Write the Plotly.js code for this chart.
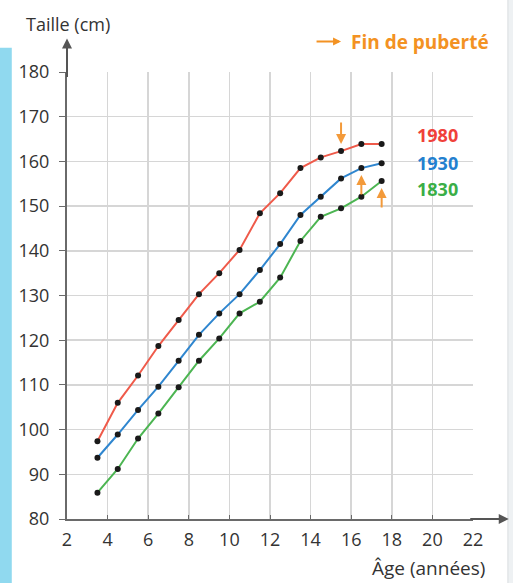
<!DOCTYPE html>
<html>
<head>
<meta charset="utf-8">
<script src="https://cdn.plot.ly/plotly-3.0.1.min.js"></script>
<style>html,body{margin:0;padding:0;background:#fff;}#chart{width:513px;height:583px;}</style>
</head>
<body>
<div id="chart"></div>
<script>
// Ages (années)
const ages = [3.5, 4.5, 5.5, 6.5, 7.5, 8.5, 9.5, 10.5, 11.5, 12.5, 13.5, 14.5, 15.5, 16.5, 17.5];
// Taille (cm)
const taille1980 = [97.4, 106.0, 112.1, 118.7, 124.5, 130.3, 135.0, 140.2, 148.4, 152.9, 158.5, 160.9, 162.3, 163.9, 163.9];
const taille1930 = [93.7, 98.9, 104.4, 109.6, 115.4, 121.2, 126.0, 130.3, 135.7, 141.5, 148.0, 152.1, 156.2, 158.5, 159.6];
const taille1830 = [85.9, 91.2, 98.0, 103.6, 109.5, 115.4, 120.4, 126.0, 128.6, 134.0, 142.2, 147.6, 149.5, 152.1, 155.6];
const seriesNames = ['1980', '1930', '1830'];
// Fin de puberté (âge) pour chaque série
const puberteAge = [15.5, 16.5, 17.5];
const xTicks = [2, 4, 6, 8, 10, 12, 14, 16, 18, 20, 22];
const yTicks = [80, 90, 100, 110, 120, 130, 140, 150, 160, 170, 180];

const colors = ['#ef5a4a', '#2f86cf', '#4cb552'];
const labelColors = ['#f0413a', '#2380cf', '#3aae46'];
const series = [taille1980, taille1930, taille1830];
const font = '"Open Sans", "Noto Sans", sans-serif';

const traces = series.map((s, i) => ({
  x: ages, y: s, type: 'scatter', mode: 'lines+markers', name: seriesNames[i],
  line: {color: colors[i], width: 2},
  marker: {color: '#1a1a1a', size: 6},
  hoverinfo: 'skip'
}));

const annotations = [];
// series labels at right
const labelShift = [9, 0, -8];
series.forEach((s, i) => {
  annotations.push({
    x: 1, xref: 'paper', xanchor: 'center', xshift: -36,
    y: s[s.length - 1], yref: 'y', yanchor: 'middle',
    yshift: labelShift[i],
    text: '<b>' + seriesNames[i] + '</b>', showarrow: false,
    font: {family: font, size: 18, color: labelColors[i]}
  });
});
// puberty arrows
series.forEach((s, i) => {
  const idx = ages.indexOf(puberteAge[i]);
  const down = i === 0;
  annotations.push({
    x: puberteAge[i], y: s[idx], xref: 'x', yref: 'y', text: '',
    showarrow: true, arrowhead: 2, arrowsize: 1, arrowwidth: 2, arrowcolor: '#f39a3a',
    ax: 0, ay: down ? -30 : 28, standoff: 7
  });
});
// axis arrows
annotations.push({x: 0, y: 1.075, xref: 'paper', yref: 'paper', text: '', showarrow: true,
  arrowhead: 2, arrowsize: 1, arrowwidth: 2, arrowcolor: '#555', ax: 0, ay: 40, standoff: 0});
annotations.push({x: 1.088, y: 0, xref: 'paper', yref: 'paper', text: '', showarrow: true,
  arrowhead: 2, arrowsize: 1, arrowwidth: 2, arrowcolor: '#555', ax: -40, ay: 0, standoff: 0});
// legend arrow for puberté
annotations.push({x: 0.675, y: 1.068, xref: 'paper', yref: 'paper', text: '', showarrow: true,
  arrowhead: 2, arrowsize: 0.8, arrowwidth: 2, arrowcolor: '#f39223', ax: -26, ay: 0, standoff: 0});
// titles
annotations.push({x: -0.105, xref: 'paper', xanchor: 'left', y: 1.108, yref: 'paper', yanchor: 'middle',
  text: 'Taille (cm)', showarrow: false, font: {family: font, size: 18, color: '#333'}});
annotations.push({x: 1.045, xref: 'paper', xanchor: 'right', y: 1.068, yref: 'paper', yanchor: 'middle',
  text: '<b>Fin de puberté</b>', showarrow: false, font: {family: font, size: 19, color: '#f39223'}});
annotations.push({x: 1.035, xref: 'paper', xanchor: 'right', y: -0.11, yref: 'paper', yanchor: 'middle',
  text: 'Âge (années)', showarrow: false, font: {family: font, size: 19, color: '#333'}});

const shapes = [
  {type: 'rect', xref: 'paper', yref: 'paper', x0: -0.165, x1: -0.136, y0: -0.15, y1: 1.054,
   fillcolor: '#90d9ef', line: {width: 0}, layer: 'below'},
  {type: 'rect', xref: 'paper', yref: 'paper', x0: 1.086, x1: 1.12, y0: -0.15, y1: 1.17,
   fillcolor: '#eef1f3', line: {color: '#d8dcdf', width: 1}, layer: 'below'}
];

const layout = {
  width: 513, height: 583,
  margin: {l: 67, r: 40, t: 72, b: 64},
  paper_bgcolor: '#ffffff', plot_bgcolor: '#ffffff',
  showlegend: false,
  font: {family: font, size: 16, color: '#333'},
  xaxis: {
    range: [2, 22], tickvals: xTicks, ticktext: xTicks.map(String),
    showgrid: true, gridcolor: '#d6d6d6', gridwidth: 1.5,
    showline: true, linecolor: '#6a6a6a', linewidth: 2,
    ticks: 'inside', ticklen: 4, tickcolor: '#6a6a6a',
    ticklabelstandoff: 3,
    zeroline: false, fixedrange: true,
    tickfont: {family: font, size: 18, color: '#333'}
  },
  yaxis: {
    range: [80, 180], tickvals: yTicks, ticktext: yTicks.map(String),
    showgrid: true, gridcolor: '#d6d6d6', gridwidth: 1.5,
    showline: true, linecolor: '#6a6a6a', linewidth: 2,
    ticks: 'outside', ticklen: 6, tickcolor: '#6a6a6a',
    ticklabelstandoff: 6,
    zeroline: false, fixedrange: true,
    tickfont: {family: font, size: 18, color: '#333'}
  },
  annotations: annotations,
  shapes: shapes
};

Plotly.newPlot('chart', traces, layout, {displayModeBar: false, staticPlot: true});
</script>
</body>
</html>
